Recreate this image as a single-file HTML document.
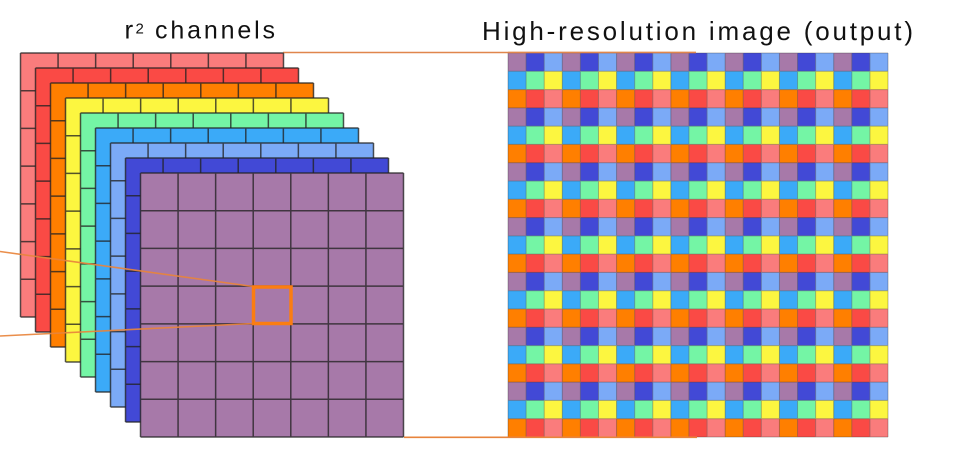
<!DOCTYPE html>
<html>
<head>
<meta charset="utf-8">
<style>
  html, body { margin: 0; padding: 0; background: #ffffff; }
  body { width: 955px; height: 458px; overflow: hidden; }
  svg { display: block; }
  text { font-family: "Liberation Sans", "DejaVu Sans", sans-serif; fill: #111; }
</style>
</head>
<body>
<svg width="955" height="458" viewBox="0 0 955 458" xmlns="http://www.w3.org/2000/svg">
  <defs>
    <path id="lg" d="M0 0V264M37.571 0V264M75.143 0V264M112.714 0V264M150.286 0V264M187.857 0V264M225.429 0V264M263 0V264M0 0H263M0 37.714H263M0 75.429H263M0 113.143H263M0 150.857H263M0 188.571H263M0 226.286H263M0 264H263" fill="none" stroke="#222" stroke-opacity="0.78" stroke-width="1.5"/>
    <pattern id="hr" x="508" y="53" width="54.2857" height="54.8571" patternUnits="userSpaceOnUse">
      <rect x="0" y="0" width="18.1" height="18.3" fill="#A779A9"/>
      <rect x="18.0952" y="0" width="18.1" height="18.3" fill="#4249D6"/>
      <rect x="36.1905" y="0" width="18.1" height="18.3" fill="#7BAAF7"/>
      <rect x="0" y="18.2857" width="18.1" height="18.3" fill="#3BAAF8"/>
      <rect x="18.0952" y="18.2857" width="18.1" height="18.3" fill="#74F5A5"/>
      <rect x="36.1905" y="18.2857" width="18.1" height="18.3" fill="#FCF640"/>
      <rect x="0" y="36.5714" width="18.1" height="18.3" fill="#FF7F00"/>
      <rect x="18.0952" y="36.5714" width="18.1" height="18.3" fill="#FA4A45"/>
      <rect x="36.1905" y="36.5714" width="18.1" height="18.3" fill="#FA7C7C"/>
    </pattern>
  </defs>

  <!-- Titles -->
  <text x="124.5" y="38.5" font-size="26">r</text>
  <text x="135.5" y="33.5" font-size="15">2</text>
  <text x="155" y="38.5" font-size="25" textLength="120" lengthAdjust="spacing">channels</text>
  <text x="482" y="40" font-size="26" textLength="431" lengthAdjust="spacing">High-resolution image (output)</text>

  <!-- top connector line -->
  <line x1="283" y1="52.5" x2="696" y2="52.5" stroke="#E0864C" stroke-width="1.5"/>

  <!-- Layer stack -->
  <g transform="translate(20.5,53)"><rect width="263" height="264" fill="#FA7C7C"/><use href="#lg"/></g>
  <g transform="translate(35.5,68)"><rect width="263" height="264" fill="#FA4A45"/><use href="#lg"/></g>
  <g transform="translate(50.5,83)"><rect width="263" height="264" fill="#FF7F00"/><use href="#lg"/></g>
  <g transform="translate(65.5,98)"><rect width="263" height="264" fill="#FCF640"/><use href="#lg"/></g>
  <g transform="translate(80.5,113)"><rect width="263" height="264" fill="#74F5A5"/><use href="#lg"/></g>
  <g transform="translate(95.5,128)"><rect width="263" height="264" fill="#3BAAF8"/><use href="#lg"/></g>
  <g transform="translate(110.5,143)"><rect width="263" height="264" fill="#7BAAF7"/><use href="#lg"/></g>
  <g transform="translate(125.5,158)"><rect width="263" height="264" fill="#4249D6"/><use href="#lg"/></g>
  <g transform="translate(140.5,173)"><rect width="263" height="264" fill="#A779A9"/><use href="#lg"/></g>

  <!-- orange connector lines on left -->
  <line x1="0" y1="251.5" x2="253" y2="286.5" stroke="#E8843C" stroke-width="1.6" stroke-opacity="0.92"/>
  <line x1="0" y1="336" x2="253" y2="323.5" stroke="#E8843C" stroke-width="1.6" stroke-opacity="0.92"/>

  <!-- highlighted cell -->
  <rect x="253.5" y="287" width="37.5" height="36.5" fill="none" stroke="#FB7D12" stroke-width="3.5"/>

  <!-- High resolution grid -->
  <rect x="508" y="53" width="380" height="384" fill="url(#hr)"/>
  <path d="M508 53V437M526.10 53V437M544.19 53V437M562.29 53V437M580.38 53V437M598.48 53V437M616.57 53V437M634.67 53V437M652.76 53V437M670.86 53V437M688.95 53V437M707.05 53V437M725.14 53V437M743.24 53V437M761.33 53V437M779.43 53V437M797.52 53V437M815.62 53V437M833.71 53V437M851.81 53V437M869.90 53V437M888 53V437
           M508 53H888M508 71.29H888M508 89.57H888M508 107.86H888M508 126.14H888M508 144.43H888M508 162.71H888M508 181H888M508 199.29H888M508 217.57H888M508 235.86H888M508 254.14H888M508 272.43H888M508 290.71H888M508 309H888M508 327.29H888M508 345.57H888M508 363.86H888M508 382.14H888M508 400.43H888M508 418.71H888M508 437H888"
        fill="none" stroke="#333" stroke-opacity="0.35" stroke-width="1"/>

  <!-- re-draw top line over grid edge and bottom connector -->
  <line x1="508" y1="52.5" x2="696" y2="52.5" stroke="#E0864C" stroke-width="1.5"/>
  <line x1="404" y1="437.3" x2="697" y2="437.3" stroke="#E8843C" stroke-width="1.6"/>
</svg>
</body>
</html>
